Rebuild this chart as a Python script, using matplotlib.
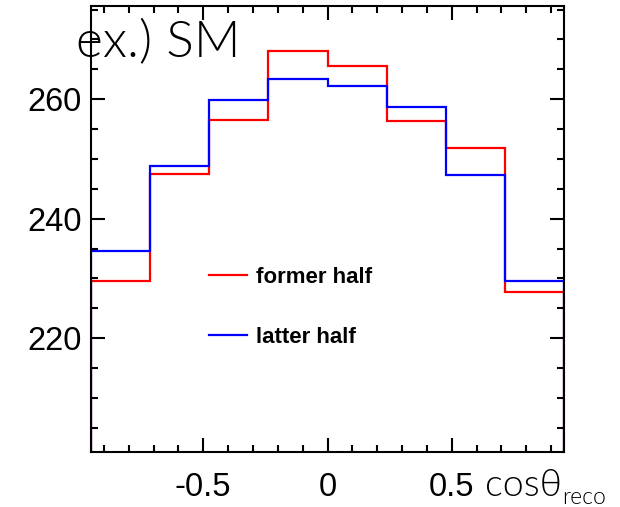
import numpy as np
import matplotlib
matplotlib.use("Agg")
import matplotlib.pyplot as plt
from matplotlib.ticker import MultipleLocator, FixedLocator

edges = [-0.95, -0.7125, -0.475, -0.2375, 0.0, 0.2375, 0.475, 0.7125, 0.95]
former_half = [229.5, 247.5, 256.5, 268.1, 265.6, 256.4, 251.9, 227.7]
latter_half = [234.6, 248.9, 259.8, 263.4, 262.2, 258.7, 247.3, 229.5]
labels = ["former half", "latter half"]
xticks = [-0.5, 0, 0.5]
xticklabels = ["-0.5", "0", "0.5"]
yticks = [220, 240, 260]

YMIN, YMAX = 200.9, 275.6

fig = plt.figure(figsize=(6.2, 5.07), dpi=100)
ax = fig.add_axes([91.4/620, 1-452.3/507, 472.2/620, 446.3/507])

ax.stairs(former_half, edges, baseline=YMIN, color="#ff0000", lw=1.6, label=labels[0])
ax.stairs(latter_half, edges, baseline=YMIN, color="#0000ff", lw=1.6, label=labels[1])

ax.set_xlim(-0.95, 0.95)
ax.set_ylim(YMIN, YMAX)

ax.xaxis.set_major_locator(FixedLocator(xticks))
ax.set_xticklabels(xticklabels)
ax.xaxis.set_minor_locator(MultipleLocator(0.1))
ax.yaxis.set_major_locator(FixedLocator(yticks))
ax.yaxis.set_minor_locator(MultipleLocator(5))

for s in ax.spines.values():
    s.set_linewidth(1.5)
ax.tick_params(which="both", direction="in", top=True, right=True, width=1.5)
ax.tick_params(which="major", length=10)
ax.tick_params(which="minor", length=5)
ax.tick_params(axis="x", which="major", pad=14, labelsize=23.5)
ax.tick_params(axis="y", which="major", pad=7, labelsize=23.5)
for lab in ax.get_xticklabels() + ax.get_yticklabels():
    lab.set_family("Liberation Sans")

leg = ax.legend(loc="upper left", bbox_to_anchor=(209/620, 1-267/507),
                bbox_transform=fig.transFigure, frameon=False,
                prop={"family": "Liberation Sans", "weight": "bold", "size": 16},
                handlelength=1.7, handletextpad=0.42, labelspacing=1.75,
                borderpad=0, borderaxespad=0)

fig.text(76/620, 1-43/507, "ex.) SM", family="Lato", fontweight=300,
         fontsize=37, va="center", ha="left")
t = fig.text(485/620, 1-486/507, "cosθ", family=["Lato", "DejaVu Sans"], fontweight=300,
             fontsize=27, va="center", ha="left")
fig.canvas.draw()
bb = t.get_window_extent()
fig.text(bb.x1 / 620 + 0.001, 1-497/507, "reco", family="Lato", fontweight=300,
         fontsize=16.5, va="center", ha="left")

fig.savefig("out.png", dpi=100)
